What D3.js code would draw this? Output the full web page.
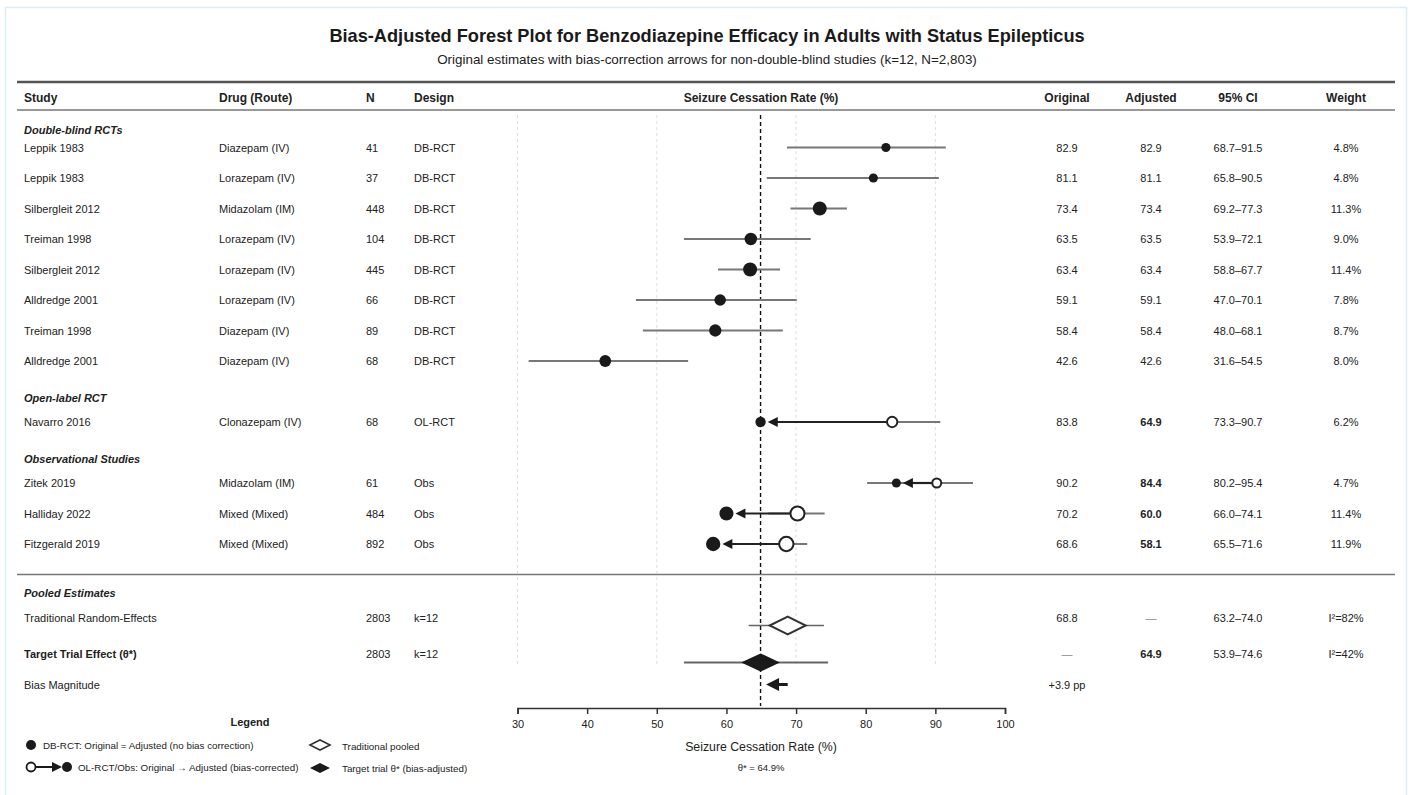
<!DOCTYPE html>
<html>
<head>
<meta charset="utf-8">
<script src="https://cdn.jsdelivr.net/npm/d3@7/dist/d3.min.js"></script>
<style>
    body { margin: 0; background: #fff; }
    #chart { width: 1416px; height: 795px; }
    text { font-family: "Liberation Sans", Arial, sans-serif; fill: #222; }
</style>
</head>
<body>
<div id="chart"></div>
<script>

// study rows (top to bottom)
const studies = ["Leppik 1983", "Leppik 1983", "Silbergleit 2012", "Treiman 1998", "Silbergleit 2012", "Alldredge 2001",
    "Treiman 1998", "Alldredge 2001", "Navarro 2016", "Zitek 2019", "Halliday 2022", "Fitzgerald 2019"];
const drugs = ["Diazepam (IV)", "Lorazepam (IV)", "Midazolam (IM)", "Lorazepam (IV)", "Lorazepam (IV)", "Lorazepam (IV)",
    "Diazepam (IV)", "Diazepam (IV)", "Clonazepam (IV)", "Midazolam (IM)", "Mixed (Mixed)", "Mixed (Mixed)"];
const sampleN = [41, 37, 448, 104, 445, 66, 89, 68, 68, 61, 484, 892];
const designs = ["DB-RCT", "DB-RCT", "DB-RCT", "DB-RCT", "DB-RCT", "DB-RCT", "DB-RCT", "DB-RCT", "OL-RCT", "Obs", "Obs", "Obs"];
const original = [82.9, 81.1, 73.4, 63.5, 63.4, 59.1, 58.4, 42.6, 83.8, 90.2, 70.2, 68.6];
const adjusted = [82.9, 81.1, 73.4, 63.5, 63.4, 59.1, 58.4, 42.6, 64.9, 84.4, 60.0, 58.1];
const ciLow = [68.7, 65.8, 69.2, 53.9, 58.8, 47.0, 48.0, 31.6, 73.3, 80.2, 66.0, 65.5];
const ciHigh = [91.5, 90.5, 77.3, 72.1, 67.7, 70.1, 68.1, 54.5, 90.7, 95.4, 74.1, 71.6];
const weights = [4.8, 4.8, 11.3, 9.0, 11.4, 7.8, 8.7, 8.0, 6.2, 4.7, 11.4, 11.9];

// section labels per design
const sectionNames = {"DB-RCT": "Double-blind RCTs", "OL-RCT": "Open-label RCT", "Obs": "Observational Studies"};

// pooled estimates
const pooledLabels = ["Traditional Random-Effects", "Target Trial Effect (θ*)"];
const pooledN = [2803, 2803];
const pooledK = ["k=12", "k=12"];
const pooledOriginal = ["68.8", "—"];
const pooledAdjusted = ["—", "64.9"];
const pooledEst = [68.8, 64.9];
const pooledLow = [63.2, 53.9];
const pooledHigh = [74.0, 74.6];
const pooledI2 = ["I²=82%", "I²=42%"];
const biasFrom = 68.8;
const biasTo = 64.9;
const theta = 64.9;

// axis
const xTicks = [30, 40, 50, 60, 70, 80, 90, 100];
const gridTicks = [30, 50, 70, 90];

// table columns
const headers = ["Study", "Drug (Route)", "N", "Design", "Seizure Cessation Rate (%)", "Original", "Adjusted", "95% CI", "Weight"];


class forestPlot {

    constructor(parentElement) {
        this.parentElement = parentElement;
        this.initVis();
    }

    initVis() {
        let vis = this;

        vis.width = 1416;
        vis.height = 795;

        vis.svg = d3.select("#" + vis.parentElement).append("svg")
            .attr("width", vis.width)
            .attr("height", vis.height);

        // panel frame
        vis.svg.append("rect")
            .attr("x", 5.5).attr("y", 7.5)
            .attr("width", 1401).attr("height", 800)
            .attr("fill", "#fff")
            .attr("stroke", "#dcedf5")
            .attr("stroke-width", 1.5);

        // scales
        vis.x = d3.scaleLinear().domain([30, 100]).range([517.5, 1005]);
        vis.row = d3.scaleLinear().domain([0, 1]).range([147.5, 178]);
        vis.r = d3.scaleSqrt().domain([0, 12]).range([0, 7.2]);

        // column x positions
        vis.col = {study: 24, drug: 219, n: 366, design: 414, plot: 761, orig: 1067, adj: 1151, ci: 1238, weight: 1346};
        vis.lineX = [17, 1395];

        vis.svg.append("text")
            .attr("x", 707).attr("y", 36)
            .attr("text-anchor", "middle").attr("dominant-baseline", "central")
            .attr("font-size", 18.2).attr("font-weight", "bold")
            .style("fill", "#1a1a1a")
            .text("Bias-Adjusted Forest Plot for Benzodiazepine Efficacy in Adults with Status Epilepticus");

        vis.svg.append("text")
            .attr("x", 707).attr("y", 59)
            .attr("text-anchor", "middle").attr("dominant-baseline", "central")
            .attr("font-size", 13.4)
            .text("Original estimates with bias-correction arrows for non-double-blind studies (k=12, N=2,803)");

        this.wrangleData();
    }

    wrangleData() {
        let vis = this;

        // build rows with gaps between sections
        vis.rows = [];
        vis.sections = [];
        let idx = 0;
        studies.forEach((s, i) => {
            if (i > 0 && designs[i] !== designs[i - 1]) idx += 1;
            if (i === 0 || designs[i] !== designs[i - 1]) {
                vis.sections.push({label: sectionNames[designs[i]], first: idx, top: i === 0});
            }
            vis.rows.push({
                idx: idx, study: s, drug: drugs[i], n: sampleN[i], design: designs[i],
                orig: original[i], adj: adjusted[i], lo: ciLow[i], hi: ciHigh[i], w: weights[i]
            });
            idx += 1;
        });
        vis.lastIdx = idx;

        this.updateVis();
    }

    updateVis() {
        let vis = this;
        let x = vis.x;

        let sepY = vis.row(vis.lastIdx);
        let axisY = 708;
        let gridTop = 115, gridBottom = 665;

        // horizontal rules
        vis.svg.append("line")
            .attr("x1", vis.lineX[0]).attr("x2", vis.lineX[1])
            .attr("y1", 82).attr("y2", 82)
            .attr("stroke", "#555").attr("stroke-width", 2.5);
        vis.svg.append("line")
            .attr("x1", vis.lineX[0]).attr("x2", vis.lineX[1])
            .attr("y1", 110).attr("y2", 110)
            .attr("stroke", "#777").attr("stroke-width", 1.5);
        vis.svg.append("line")
            .attr("x1", vis.lineX[0]).attr("x2", vis.lineX[1])
            .attr("y1", sepY).attr("y2", sepY)
            .attr("stroke", "#777").attr("stroke-width", 1.5);

        // header
        let hx = [vis.col.study, vis.col.drug, vis.col.n, vis.col.design, vis.col.plot, vis.col.orig, vis.col.adj, vis.col.ci, vis.col.weight];
        vis.svg.selectAll(".header").data(headers).enter().append("text")
            .attr("class", "header")
            .attr("x", (d, i) => hx[i]).attr("y", 98)
            .attr("text-anchor", (d, i) => i < 4 ? "start" : "middle")
            .attr("dominant-baseline", "central")
            .attr("font-size", 12).attr("font-weight", "bold")
            .text(d => d);

        // grid lines
        vis.svg.selectAll(".grid").data(gridTicks).enter().append("line")
            .attr("class", "grid")
            .attr("x1", d => x(d)).attr("x2", d => x(d))
            .attr("y1", gridTop).attr("y2", gridBottom)
            .attr("stroke", "#d4d4d4").attr("stroke-width", 0.8)
            .attr("stroke-dasharray", "3,3");

        // theta reference line
        vis.svg.append("line")
            .attr("x1", x(theta)).attr("x2", x(theta))
            .attr("y1", gridTop).attr("y2", axisY - 2)
            .attr("stroke", "#111").attr("stroke-width", 1.4)
            .attr("stroke-dasharray", "4,3");

        // section labels
        vis.svg.selectAll(".section").data(vis.sections).enter().append("text")
            .attr("class", "section")
            .attr("x", vis.col.study)
            .attr("y", d => vis.row(d.first) - (d.top ? 18 : 24))
            .attr("dominant-baseline", "central")
            .attr("font-size", 11).attr("font-weight", "bold").attr("font-style", "italic")
            .text(d => d.label);

        // table text
        let rowG = vis.svg.selectAll(".row").data(vis.rows).enter().append("g")
            .attr("class", "row")
            .attr("transform", d => `translate(0, ${vis.row(d.idx)})`);

        let cells = [
            {key: d => d.study, x: vis.col.study, anchor: "start"},
            {key: d => d.drug, x: vis.col.drug, anchor: "start"},
            {key: d => d.n, x: vis.col.n, anchor: "start"},
            {key: d => d.design, x: vis.col.design, anchor: "start"},
            {key: d => d.orig.toFixed(1), x: vis.col.orig, anchor: "middle"},
            {key: d => d.adj.toFixed(1), x: vis.col.adj, anchor: "middle", bold: d => d.design !== "DB-RCT"},
            {key: d => d.lo.toFixed(1) + "–" + d.hi.toFixed(1), x: vis.col.ci, anchor: "middle"},
            {key: d => d.w.toFixed(1) + "%", x: vis.col.weight, anchor: "middle"}
        ];
        cells.forEach(c => {
            rowG.append("text")
                .attr("x", c.x).attr("y", 0)
                .attr("text-anchor", c.anchor).attr("dominant-baseline", "central")
                .attr("font-size", 11)
                .attr("font-weight", d => c.bold && c.bold(d) ? "bold" : "normal")
                .text(c.key);
        });

        // confidence intervals
        rowG.append("line")
            .attr("x1", d => x(d.lo)).attr("x2", d => x(d.hi))
            .attr("y1", 0).attr("y2", 0)
            .attr("stroke", "#777").attr("stroke-width", 2);

        // bias-correction arrows
        let biased = rowG.filter(d => d.design !== "DB-RCT");
        biased.append("line")
            .attr("x1", d => x(d.orig) - vis.r(d.w))
            .attr("x2", d => x(d.adj) + vis.r(d.w) + 8)
            .attr("y1", 0).attr("y2", 0)
            .attr("stroke", "#222").attr("stroke-width", 2.2);
        biased.append("path")
            .attr("d", d => {
                let tip = x(d.adj) + vis.r(d.w) + 2;
                return `M${tip},0 L${tip + 10},-5 L${tip + 10},5 Z`;
            })
            .attr("fill", "#1a1a1a");
        biased.append("circle")
            .attr("cx", d => x(d.orig)).attr("cy", 0)
            .attr("r", d => vis.r(d.w))
            .attr("fill", "#fff").attr("stroke", "#222").attr("stroke-width", 2);

        // point estimates
        rowG.append("circle")
            .attr("cx", d => x(d.adj)).attr("cy", 0)
            .attr("r", d => vis.r(d.w))
            .attr("fill", "#1a1a1a");

        // pooled section
        let pooledHeadY = sepY + 18;
        let pooledTextY = [sepY + 43, sepY + 79];
        let diamondY = [sepY + 51, sepY + 88];
        let biasY = sepY + 110;

        vis.svg.append("text")
            .attr("x", vis.col.study).attr("y", pooledHeadY)
            .attr("dominant-baseline", "central")
            .attr("font-size", 11).attr("font-weight", "bold").attr("font-style", "italic")
            .text("Pooled Estimates");

        pooledLabels.forEach((lab, i) => {
            let ty = pooledTextY[i];
            let bold = i === 1;
            vis.svg.append("text")
                .attr("x", vis.col.study).attr("y", ty)
                .attr("dominant-baseline", "central")
                .attr("font-size", 11).attr("font-weight", bold ? "bold" : "normal")
                .text(lab);
            vis.svg.append("text")
                .attr("x", vis.col.n).attr("y", ty)
                .attr("dominant-baseline", "central").attr("font-size", 11)
                .text(pooledN[i]);
            vis.svg.append("text")
                .attr("x", vis.col.design).attr("y", ty)
                .attr("dominant-baseline", "central").attr("font-size", 11)
                .text(pooledK[i]);
            vis.svg.append("text")
                .attr("x", vis.col.orig).attr("y", ty)
                .attr("text-anchor", "middle").attr("dominant-baseline", "central").attr("font-size", 11)
                .style("fill", pooledOriginal[i] === "—" ? "#888" : "#222")
                .text(pooledOriginal[i]);
            vis.svg.append("text")
                .attr("x", vis.col.adj).attr("y", ty)
                .attr("text-anchor", "middle").attr("dominant-baseline", "central").attr("font-size", 11)
                .attr("font-weight", pooledAdjusted[i] === "—" ? "normal" : "bold")
                .style("fill", pooledAdjusted[i] === "—" ? "#888" : "#222")
                .text(pooledAdjusted[i]);
            vis.svg.append("text")
                .attr("x", vis.col.ci).attr("y", ty)
                .attr("text-anchor", "middle").attr("dominant-baseline", "central").attr("font-size", 11)
                .text(pooledLow[i].toFixed(1) + "–" + pooledHigh[i].toFixed(1));
            vis.svg.append("text")
                .attr("x", vis.col.weight).attr("y", ty)
                .attr("text-anchor", "middle").attr("dominant-baseline", "central").attr("font-size", 11)
                .text(pooledI2[i]);

            // ci + diamond
            let dy = diamondY[i];
            vis.svg.append("line")
                .attr("x1", x(pooledLow[i])).attr("x2", x(pooledHigh[i]))
                .attr("y1", dy).attr("y2", dy)
                .attr("stroke", "#666").attr("stroke-width", bold ? 2 : 1.5);
            let cx = x(pooledEst[i]);
            let hw = bold ? 17 : 18, hh = bold ? 8 : 9;
            vis.svg.append("path")
                .attr("d", `M${cx - hw},${dy} L${cx},${dy - hh} L${cx + hw},${dy} L${cx},${dy + hh} Z`)
                .attr("fill", bold ? "#1a1a1a" : "#fff")
                .attr("stroke", bold ? "#1a1a1a" : "#333")
                .attr("stroke-width", 2);
        });

        // bias magnitude
        vis.svg.append("text")
            .attr("x", vis.col.study).attr("y", biasY)
            .attr("dominant-baseline", "central").attr("font-size", 11)
            .text("Bias Magnitude");
        vis.svg.append("text")
            .attr("x", vis.col.orig).attr("y", biasY)
            .attr("text-anchor", "middle").attr("dominant-baseline", "central").attr("font-size", 11)
            .text("+" + (biasFrom - biasTo).toFixed(1) + " pp");
        let tip = x(biasTo) + 5.5;
        vis.svg.append("line")
            .attr("x1", x(biasFrom)).attr("x2", tip + 10)
            .attr("y1", biasY).attr("y2", biasY)
            .attr("stroke", "#1a1a1a").attr("stroke-width", 3);
        vis.svg.append("path")
            .attr("d", `M${tip},${biasY} L${tip + 13},${biasY - 6.5} L${tip + 13},${biasY + 6.5} Z`)
            .attr("fill", "#1a1a1a");

        // x axis
        let axis = vis.svg.append("g")
            .attr("transform", `translate(0, ${axisY})`)
            .call(d3.axisBottom(x).tickValues(xTicks).tickSize(6).tickSizeOuter(6).tickPadding(6));
        axis.select(".domain").attr("stroke", "#333").attr("stroke-width", 1.5);
        axis.selectAll(".tick line").attr("stroke", "#333").attr("stroke-width", 1.5);
        axis.selectAll(".tick text")
            .attr("font-size", 11).attr("font-family", "Liberation Sans, Arial, sans-serif")
            .style("fill", "#222");

        vis.svg.append("text")
            .attr("x", vis.col.plot).attr("y", 747)
            .attr("text-anchor", "middle").attr("dominant-baseline", "central")
            .attr("font-size", 12.3)
            .text("Seizure Cessation Rate (%)");
        vis.svg.append("text")
            .attr("x", vis.col.plot).attr("y", 767)
            .attr("text-anchor", "middle").attr("dominant-baseline", "central")
            .attr("font-size", 9.5)
            .text("θ* = " + theta.toFixed(1) + "%");

        // legend
        let leg = vis.svg.append("g");
        leg.append("text")
            .attr("x", 250).attr("y", 722)
            .attr("text-anchor", "middle").attr("dominant-baseline", "central")
            .attr("font-size", 11).attr("font-weight", "bold")
            .text("Legend");

        leg.append("circle").attr("cx", 31).attr("cy", 745).attr("r", 5).attr("fill", "#1a1a1a");
        leg.append("text")
            .attr("x", 43).attr("y", 745).attr("dominant-baseline", "central").attr("font-size", 9.8)
            .text("DB-RCT: Original = Adjusted (no bias correction)");

        leg.append("line").attr("x1", 36).attr("x2", 54).attr("y1", 767).attr("y2", 767)
            .attr("stroke", "#1a1a1a").attr("stroke-width", 2);
        leg.append("path").attr("d", "M62,767 L52,762 L52,772 Z").attr("fill", "#1a1a1a");
        leg.append("circle").attr("cx", 31).attr("cy", 767).attr("r", 4.5)
            .attr("fill", "#fff").attr("stroke", "#1a1a1a").attr("stroke-width", 1.8);
        leg.append("circle").attr("cx", 67).attr("cy", 767).attr("r", 5).attr("fill", "#1a1a1a");
        leg.append("text")
            .attr("x", 78).attr("y", 767).attr("dominant-baseline", "central").attr("font-size", 9.8)
            .text("OL-RCT/Obs: Original → Adjusted (bias-corrected)");

        leg.append("path").attr("d", "M310,745 L320,740 L330,745 L320,750 Z")
            .attr("fill", "#fff").attr("stroke", "#333").attr("stroke-width", 1.6);
        leg.append("text")
            .attr("x", 342).attr("y", 746).attr("dominant-baseline", "central").attr("font-size", 9.8)
            .text("Traditional pooled");
        leg.append("path").attr("d", "M310,768 L320,763 L330,768 L320,773 Z")
            .attr("fill", "#1a1a1a");
        leg.append("text")
            .attr("x", 342).attr("y", 768).attr("dominant-baseline", "central").attr("font-size", 9.8)
            .text("Target trial θ* (bias-adjusted)");
    }
}

new forestPlot("chart");
</script>
</body>
</html>
